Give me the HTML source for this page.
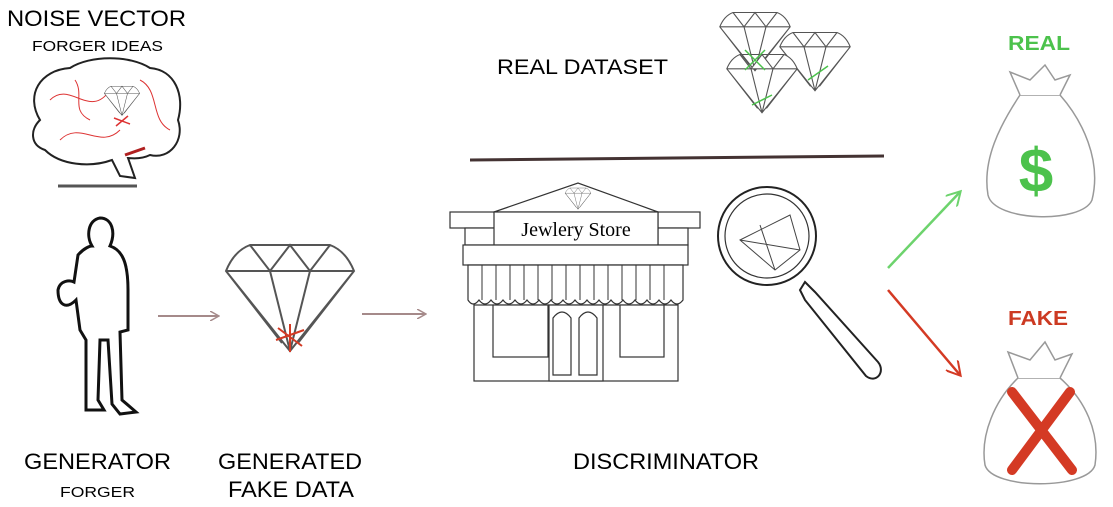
<!DOCTYPE html>
<html><head><meta charset="utf-8"><style>
body{margin:0;background:#fff;width:1113px;height:507px;overflow:hidden}
svg{display:block}
text{font-family:"Liberation Sans",sans-serif}
</style></head><body>
<svg width="1113" height="507" viewBox="0 0 1113 507" xmlns="http://www.w3.org/2000/svg">
<defs>
<marker id="ab" markerWidth="10" markerHeight="10" refX="8" refY="5" orient="auto" markerUnits="userSpaceOnUse"><path d="M0,0 L9,5 L0,10" fill="none" stroke="#a58a8a" stroke-width="1.5"/></marker>
<marker id="ag" markerWidth="16" markerHeight="16" refX="13" refY="8" orient="auto" markerUnits="userSpaceOnUse"><path d="M0,0 L14,8 L0,16" fill="none" stroke="#6dd36d" stroke-width="2"/></marker>
<marker id="ar" markerWidth="16" markerHeight="16" refX="13" refY="8" orient="auto" markerUnits="userSpaceOnUse"><path d="M0,0 L14,8 L0,16" fill="none" stroke="#d43a24" stroke-width="2"/></marker>
<g id="dia"><path d="M-32,-12 Q-28,-22 -20,-25 L20,-25 Q28,-22 32,-12 L0,28 Z M-32,-12 L32,-12 M-20,-25 L-10,-12 L0,-25 L10,-12 L20,-25 M-10,-12 L0,28 L10,-12 M-32,-12 L-4,24 M32,-12 L4,24" fill="#fff" stroke="#555" stroke-width="1"/></g>
</defs>

<text x="7" y="26" font-size="22" textLength="179" lengthAdjust="spacingAndGlyphs">NOISE VECTOR</text>
<text x="32" y="51" font-size="15" textLength="131" lengthAdjust="spacingAndGlyphs">FORGER IDEAS</text>
<text x="497" y="74" font-size="21" textLength="171" lengthAdjust="spacingAndGlyphs">REAL DATASET</text>
<text x="1008" y="50" font-size="20" font-weight="bold" fill="#4cc24c" textLength="62" lengthAdjust="spacingAndGlyphs">REAL</text>
<text x="1008" y="325" font-size="20" font-weight="bold" fill="#cc3a22" textLength="60" lengthAdjust="spacingAndGlyphs">FAKE</text>
<text x="24" y="469" font-size="22" textLength="147" lengthAdjust="spacingAndGlyphs">GENERATOR</text>
<text x="60" y="497" font-size="15" textLength="75" lengthAdjust="spacingAndGlyphs">FORGER</text>
<text x="218" y="469" font-size="22" textLength="144" lengthAdjust="spacingAndGlyphs">GENERATED</text>
<text x="228" y="497" font-size="22" textLength="126" lengthAdjust="spacingAndGlyphs">FAKE DATA</text>
<text x="573" y="469" font-size="22" textLength="186" lengthAdjust="spacingAndGlyphs">DISCRIMINATOR</text>

<!-- brain -->
<path d="M40,120 C25,95 40,70 70,68 C90,55 130,55 150,68 C175,70 185,95 178,120 C185,140 170,160 150,155 C140,160 130,158 128,158 L135,178 L120,176 L112,160 C90,168 60,165 45,150 C30,145 30,130 40,120 Z" fill="#fff" stroke="#222" stroke-width="2"/>
<path d="M50,100 C70,80 90,120 110,90 M60,140 C80,120 100,150 120,130 M140,80 C160,90 150,120 170,130 M75,80 C85,95 70,110 90,120" fill="none" stroke="#d33" stroke-width="1"/>
<path d="M125,155 L145,148" stroke="#b02020" stroke-width="3"/>
<g transform="translate(122,100) scale(0.55)"><use href="#dia"/></g>
<path d="M114,118 L130,124 M116,126 L128,116" stroke="#d33" stroke-width="1.5"/>
<path d="M58,186 L137,186" stroke="#555" stroke-width="3"/>

<!-- person -->
<path d="M100,218 C112,218 116,232 110,246 C122,250 128,262 128,290 L128,330 L120,332 L122,400 L136,412 L120,414 L112,404 L108,340 L100,340 L98,400 L104,410 L86,410 L86,340 L80,330 L76,300 C66,310 58,305 58,290 C60,280 70,280 74,282 L78,255 C84,248 90,246 92,246 C86,236 88,220 100,218 Z" fill="#fff" stroke="#111" stroke-width="3"/>

<!-- arrows -->
<path d="M158,316 L218,316" stroke="#a58a8a" stroke-width="2" marker-end="url(#ab)"/>
<path d="M362,314 L425,314" stroke="#a58a8a" stroke-width="2" marker-end="url(#ab)"/>

<!-- fake diamond -->
<g transform="translate(290,295) scale(2)"><use href="#dia"/></g>
<path d="M276,340 L304,330 M278,328 L302,346 M290,324 L290,352" stroke="#d43a24" stroke-width="2"/>

<!-- real diamonds -->
<g transform="translate(755,40) scale(1.1)"><use href="#dia"/></g>
<g transform="translate(815,60) scale(1.1)"><use href="#dia"/></g>
<g transform="translate(762,82) scale(1.1)"><use href="#dia"/></g>
<g stroke="#4cc24c" stroke-width="1.5"><path d="M745,70 L765,50 M745,50 L765,70 M808,80 L828,66 M752,105 L772,95"/></g>

<path d="M470,160 L884,156" stroke="#443333" stroke-width="3"/>

<!-- store -->
<g fill="#fff" stroke="#333" stroke-width="1.2">
<path d="M494,212 L578,183 L658,212 Z"/>
<rect x="450" y="212" width="45" height="16"/><rect x="658" y="212" width="42" height="16"/>
<rect x="465" y="228" width="30" height="17"/><rect x="658" y="228" width="30" height="17"/>
<rect x="494" y="212" width="164" height="33"/>
<rect x="463" y="245" width="225" height="20"/>
<rect x="474" y="305" width="204" height="76"/>
<rect x="493" y="305" width="55" height="52"/><rect x="620" y="305" width="44" height="52"/>
<rect x="549" y="305" width="54" height="76"/>
<path d="M553,375 L553,318 Q562,306 571,318 L571,375 Z M579,375 L579,318 Q588,306 597,318 L597,375 Z"/>
<path d="M468,265 L683,265 L683,300 Q677,308 671,300 Q665,308 659,300 Q653,308 647,300 Q641,308 635,300 Q629,308 623,300 Q617,308 611,300 Q605,308 599,300 Q593,308 587,300 Q581,308 575,300 Q569,308 563,300 Q557,308 551,300 Q545,308 539,300 Q533,308 527,300 Q521,308 515,300 Q509,308 503,300 Q497,308 491,300 Q485,308 479,300 Q473,308 468,300 Z"/>
</g>
<g stroke="#333" stroke-width="1"><path d="M482,265V300M496,265V300M510,265V300M524,265V300M538,265V300M552,265V300M566,265V300M580,265V300M594,265V300M608,265V300M622,265V300M636,265V300M650,265V300M664,265V300"/></g>
<text x="576" y="236" font-size="20" text-anchor="middle" style="font-family:'Liberation Serif',serif">Jewlery Store</text>
<g transform="translate(578,198) scale(0.4)"><use href="#dia"/></g>

<!-- magnifier -->
<circle cx="767" cy="236" r="49" fill="#fff" stroke="#222" stroke-width="2"/>
<circle cx="767" cy="236" r="42" fill="none" stroke="#333" stroke-width="1.2"/>
<path d="M740,240 L790,215 L800,250 L775,270 Z M740,240 L800,250 M760,225 L775,270" fill="none" stroke="#444"/>
<path d="M805,282 L815,292 L878,362 C886,372 876,384 866,376 L805,300 L800,290 Z" fill="#fff" stroke="#222" stroke-width="2"/>

<!-- decision arrows -->
<path d="M888,268 L960,192" stroke="#6dd36d" stroke-width="2.5" marker-end="url(#ag)"/>
<path d="M888,290 L960,375" stroke="#d43a24" stroke-width="2.5" marker-end="url(#ar)"/>

<!-- bags -->
<g fill="#fff" stroke="#999" stroke-width="1.5">
<path d="M1020,95 C1000,125 982,160 988,195 C994,222 1082,224 1092,200 C1102,160 1082,120 1060,95 Z"/>
<path d="M1020,95 L1010,72 L1030,80 L1045,65 L1055,80 L1070,75 L1060,95"/>
<path d="M1018,378 C995,400 980,435 985,465 C992,490 1088,490 1095,465 C1100,432 1085,400 1060,378 Z"/>
<path d="M1018,378 L1008,352 L1030,360 L1045,342 L1055,360 L1072,354 L1060,378"/>
</g>
<text x="1036" y="192" font-size="62" font-weight="bold" fill="#4cc24c" text-anchor="middle">$</text>
<path d="M1012,392 L1072,470 M1070,392 L1012,470" stroke="#d43a24" stroke-width="10" stroke-linecap="round"/>
</svg>
</body></html>
